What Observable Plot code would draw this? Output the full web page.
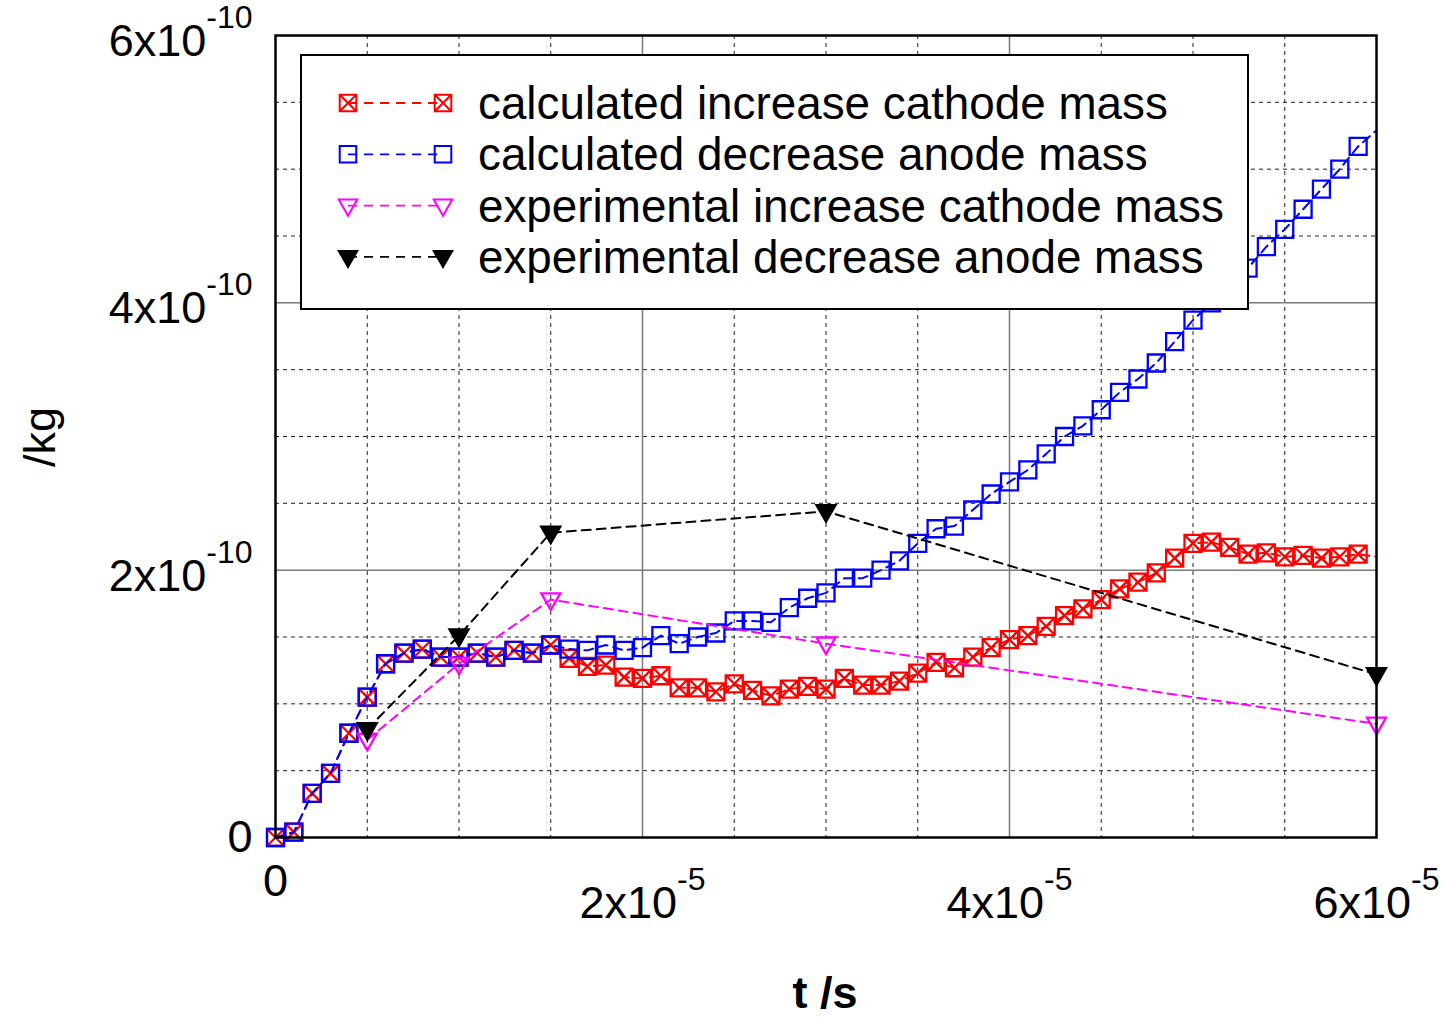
<!DOCTYPE html>
<html>
<head>
<meta charset="utf-8">
<script src="https://cdn.jsdelivr.net/npm/d3@7"></script>
<script src="https://cdn.jsdelivr.net/npm/@observablehq/plot@0.6"></script>
<style>
  html, body { margin: 0; padding: 0; background: #fff; }
</style>
</head>
<body>
<div id="chart"></div>
<script>
// Simulation time samples, in units of 1e-5 s
const tCalc = [
  0.0, 0.1, 0.2, 0.3, 0.4, 0.5, 0.6, 0.7, 0.8, 0.9,
  1.0, 1.1, 1.2, 1.3, 1.4, 1.5, 1.6, 1.7, 1.8, 1.9,
  2.0, 2.1, 2.2, 2.3, 2.4, 2.5, 2.6, 2.7, 2.8, 2.9,
  3.0, 3.1, 3.2, 3.3, 3.4, 3.5, 3.6, 3.7, 3.8, 3.9,
  4.0, 4.1, 4.2, 4.3, 4.4, 4.5, 4.6, 4.7, 4.8, 4.9,
  5.0, 5.1, 5.2, 5.3, 5.4, 5.5, 5.6, 5.7, 5.8, 5.9,
  6.0
];
// Calculated mass changes, in units of 1e-10 kg
const cathodeCalc = [
  0.00, 0.04, 0.33, 0.48, 0.78, 1.05, 1.30, 1.38, 1.41, 1.35,
  1.35, 1.38, 1.35, 1.40, 1.38, 1.44, 1.34, 1.28, 1.29, 1.20,
  1.19, 1.21, 1.12, 1.12, 1.09, 1.15, 1.10, 1.06, 1.11, 1.13,
  1.11, 1.19, 1.14, 1.14, 1.17, 1.23, 1.31, 1.27, 1.35, 1.42,
  1.48, 1.51, 1.58, 1.66, 1.71, 1.78, 1.86, 1.91, 1.98, 2.09,
  2.20, 2.21, 2.17, 2.12, 2.13, 2.10, 2.11, 2.09, 2.10, 2.12,
  2.10
];
const anodeCalc = [
  0.00, 0.04, 0.33, 0.48, 0.78, 1.05, 1.30, 1.38, 1.41, 1.35,
  1.35, 1.38, 1.35, 1.40, 1.38, 1.44, 1.41, 1.40, 1.44, 1.40,
  1.42, 1.51, 1.45, 1.50, 1.53, 1.62, 1.62, 1.61, 1.72, 1.79,
  1.83, 1.94, 1.94, 2.00, 2.07, 2.20, 2.31, 2.33, 2.45, 2.57,
  2.66, 2.75, 2.87, 3.00, 3.08, 3.20, 3.33, 3.43, 3.55, 3.71,
  3.87, 4.00, 4.13, 4.26, 4.42, 4.55, 4.70, 4.85, 5.00, 5.17,
  5.29
];
// Measured mass changes
const tExp = [0.5, 1.0, 1.5, 3.0, 6.0];
const cathodeExp = [0.73, 1.30, 1.78, 1.45, 0.85];
const anodeExp = [0.81, 1.51, 2.28, 2.44, 1.22];

const xTicks = [0, 2, 4, 6];
const xTickLabels = ["0", "2x10^-5", "4x10^-5", "6x10^-5"];
const yTicks = [0, 2, 4, 6];
const yTickLabels = ["0", "2x10^-10", "4x10^-10", "6x10^-10"];
const xGridMinor = [0.5, 1.0, 1.5, 2.5, 3.0, 3.5, 4.5, 5.0, 5.5];
const yGridMinor = [0.5, 1.0, 1.5, 2.5, 3.0, 3.5, 4.5, 5.0, 5.5];
const xGridMajor = [2, 4];
const yGridMajor = [2, 4];

const seriesNames = [
  "calculated increase cathode mass",
  "calculated decrease anode mass",
  "experimental increase cathode mass",
  "experimental decrease anode mass"
];
const seriesColors = ["#ff0000", "#0000ff", "#ff00ff", "#000000"];

const TS = 1e-5, MS = 1e-10;
const toRows = (ts, vs) => ts.map((t, i) => ({t: t * TS, m: vs[i] * MS}));
const calcCathode = toRows(tCalc, cathodeCalc);
const calcAnode = toRows(tCalc, anodeCalc);
const expCathode = toRows(tExp, cathodeExp);
const expAnode = toRows(tExp, anodeExp);

// Point symbols
const half = size => Math.sqrt(size / Math.PI);
const boxSym = {draw(c, size) { const r = half(size);
  c.moveTo(-r, -r); c.lineTo(r, -r); c.lineTo(r, r); c.lineTo(-r, r); c.closePath(); }};
const boxCrossSym = {draw(c, size) { const r = half(size);
  c.moveTo(-r, -r); c.lineTo(r, -r); c.lineTo(r, r); c.lineTo(-r, r); c.closePath();
  c.moveTo(-r, -r); c.lineTo(r, r); c.moveTo(r, -r); c.lineTo(-r, r); }};
const triDownSym = {draw(c, size) { const r = half(size);
  c.moveTo(-r, -0.65 * r); c.lineTo(r, -0.65 * r); c.lineTo(0, 1.1 * r); c.closePath(); }};

const symbols = [boxCrossSym, boxSym, triDownSym, triDownSym];
const radii = [8.5, 8.5, 9.5, 9.5];
const fills = ["none", "none", "none", "#000000"];
const dash = "9,6";

function seriesMarks(rows, k, markerFilter) {
  return [
    Plot.line(rows, {x: "t", y: "m", stroke: seriesColors[k], strokeWidth: 2, strokeDasharray: dash}),
    Plot.dot(markerFilter ? rows.filter(markerFilter) : rows, {
      x: "t", y: "m", symbol: symbols[k], r: radii[k],
      stroke: seriesColors[k], fill: fills[k], strokeWidth: 2.3
    })
  ];
}

const chart = Plot.plot({
  width: 1444,
  height: 1017,
  marginLeft: 275,
  marginRight: 68,
  marginTop: 35,
  marginBottom: 180,
  style: {fontFamily: "'Liberation Sans', Arial, sans-serif", fontSize: "45px", background: "white", overflow: "visible", color: "black"},
  x: {domain: [0, 6 * TS], ticks: xTicks.map(d => d * TS), tickFormat: (d, i) => xTickLabels[i], tickSize: 0, tickPadding: 27, label: null},
  y: {domain: [0, 6 * MS], ticks: yTicks.map(d => d * MS), tickFormat: (d, i) => yTickLabels[i], tickSize: 0, tickPadding: 23, label: null},
  marks: [
    Plot.ruleX(xGridMinor.map(d => d * TS), {stroke: "#222", strokeWidth: 1, strokeDasharray: "4,4"}),
    Plot.ruleY(yGridMinor.map(d => d * MS), {stroke: "#222", strokeWidth: 1, strokeDasharray: "4,4"}),
    Plot.ruleX(xGridMajor.map(d => d * TS), {stroke: "#7a7a7a", strokeWidth: 1.5}),
    Plot.ruleY(yGridMajor.map(d => d * MS), {stroke: "#7a7a7a", strokeWidth: 1.5}),
    ...seriesMarks(calcCathode, 0, d => d.t < 5.95 * TS),
    ...seriesMarks(calcAnode, 1, d => d.t < 5.95 * TS),
    ...seriesMarks(expCathode, 2),
    ...seriesMarks(expAnode, 3),
    Plot.frame({stroke: "black", strokeWidth: 2.5})
  ]
});
document.getElementById("chart").appendChild(chart);

const svg = d3.select(chart);

// Tick labels of the form "a x 10^b": raise the exponent
svg.selectAll("text").each(function () {
  const s = this.textContent;
  const k = s.indexOf("^");
  if (k < 0) return;
  const isY = s.endsWith("-10");
  const el = d3.select(this);
  el.text(null);
  el.append("tspan").attr("dy", isY ? 6 : 22).text(s.slice(0, k));
  el.append("tspan").attr("dy", -28).attr("font-size", 32).text(s.slice(k + 1));
});

// Axis titles
svg.append("text")
  .attr("transform", "translate(55,437) rotate(-90)")
  .attr("text-anchor", "middle")
  .attr("font-size", 45)
  .text("/kg");
svg.append("text")
  .attr("x", 825).attr("y", 1008)
  .attr("text-anchor", "middle")
  .attr("font-size", 45)
  .attr("font-weight", "bold")
  .text("t /s");

// Legend box inside the plot area
const lg = svg.append("g").attr("text-anchor", "start");
lg.append("rect")
  .attr("x", 301).attr("y", 55).attr("width", 947).attr("height", 254)
  .attr("fill", "white").attr("stroke", "black").attr("stroke-width", 2);
seriesNames.forEach((name, k) => {
  const cy = 103 + k * 51.3;
  lg.append("line")
    .attr("x1", 348).attr("x2", 443).attr("y1", cy).attr("y2", cy)
    .attr("stroke", seriesColors[k]).attr("stroke-width", 1.8).attr("stroke-dasharray", "9,7");
  const p = d3.path();
  symbols[k].draw(p, radii[k] * radii[k] * Math.PI * 0.95);
  [348, 443].forEach(cx => {
    lg.append("path").attr("d", p.toString())
      .attr("transform", `translate(${cx},${cy})`)
      .attr("fill", fills[k]).attr("stroke", seriesColors[k]).attr("stroke-width", 2);
  });
  lg.append("text")
    .attr("x", 478).attr("y", cy).attr("dy", "0.35em")
    .attr("text-anchor", "start")
    .attr("font-size", 45.8)
    .text(name);
});
</script>
</body>
</html>
